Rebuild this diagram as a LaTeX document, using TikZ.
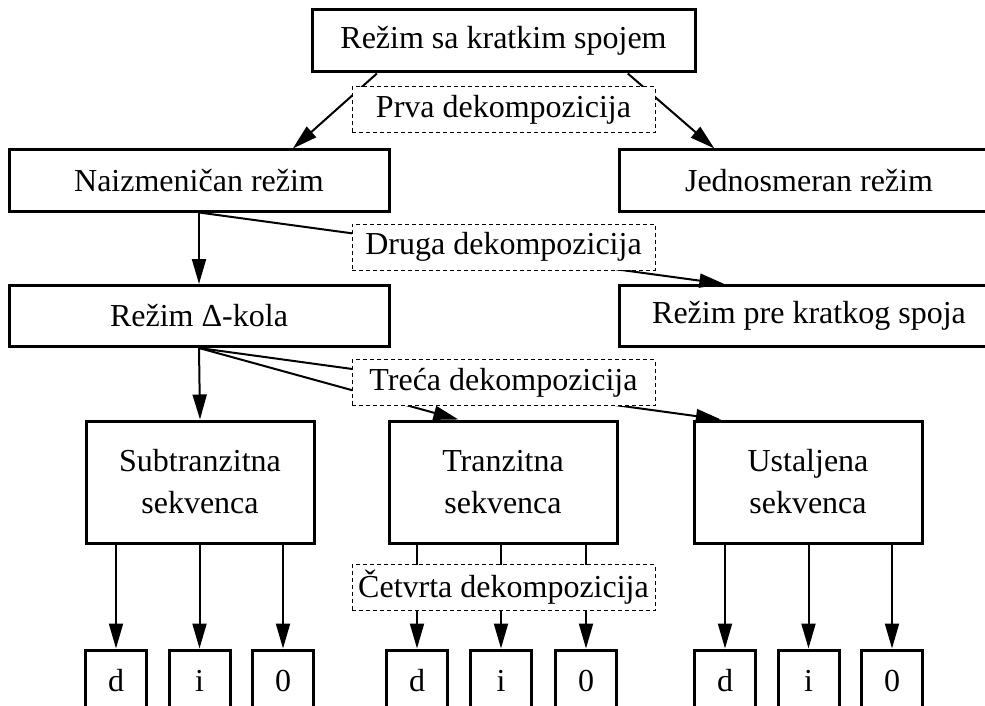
\documentclass[tikz,border=0pt]{standalone}
\usepackage{fontspec}
\setmainfont{Liberation Serif}
\usetikzlibrary{arrows.meta,calc}

\begin{document}
\begin{tikzpicture}[x=1pt, y=-1pt,
  font=\fontsize{32}{42}\selectfont,
  mode/.style={draw, line width=3pt, inner sep=0pt, minimum width=380pt, minimum height=61pt, align=center},
  seq/.style={mode, minimum width=228pt, minimum height=122pt},
  comp/.style={mode, minimum width=61pt, minimum height=62pt},
  decomp/.style={draw, fill=white, line width=1pt, dash pattern=on 4pt off 3pt, inner sep=0pt, minimum width=303pt, minimum height=46pt},
  link/.style={line width=2pt, -{Triangle[length=25pt,width=14pt]}}]
\clip (0,0) rectangle (985,706);

% Regimes
\node[mode, minimum width=383pt, minimum height=62pt] (ksp) at (503.5,41) {Režim sa kratkim spojem};
\node[mode] (naiz) at (199,180.5) {Naizmeničan režim};
\node[mode] (jedn) at (809,180.5) {Jednosmeran režim};
\node[mode] (delta) at (199,316) {Režim Δ-kola};
\node[mode] (pre) at (809,316) {Režim pre kratkog spoja};

% Sequences
\node[seq] (sub) at (200,482) {Subtranzitna\\sekvenca};
\node[seq] (tran) at (503,482) {Tranzitna\\sekvenca};
\node[seq] (ust) at (808,482) {Ustaljena\\sekvenca};

% Components
\node[comp] (subd) at (116,681) {d};
\node[comp] (subi) at (199.5,681) {i};
\node[comp] (sub0) at (283,681) {0};
\node[comp] (trand) at (417,681) {d};
\node[comp] (trani) at (501,681) {i};
\node[comp] (tran0) at (586,681) {0};
\node[comp] (ustd) at (725,681) {d};
\node[comp] (usti) at (808.5,681) {i};
\node[comp] (ust0) at (892,681) {0};

% Links
\draw[link] ($(ksp.south west)!0.172!(ksp.south east)$) -- ($(naiz.north west)!0.745!(naiz.north east)$);
\draw[link] ($(ksp.south west)!0.822!(ksp.south east)$) -- ($(jedn.north west)!0.253!(jedn.north east)$);
\draw[link] (naiz.south) -- (delta.north);
\draw[link] (naiz.south) -- ($(pre.north west)!0.279!(pre.north east)$);
\draw[link] (delta.south) -- (sub.north);
\draw[link] (delta.south) -- ($(tran.north west)!0.307!(tran.north east)$);
\draw[link] (delta.south) -- ($(ust.north west)!0.123!(ust.north east)$);
\draw[link] (subd |- sub.south) -- (subd.north);
\draw[link] (subi |- sub.south) -- (subi.north);
\draw[link] (sub0 |- sub.south) -- (sub0.north);
\draw[link] (trand |- tran.south) -- (trand.north);
\draw[link] (trani |- tran.south) -- (trani.north);
\draw[link] (tran0 |- tran.south) -- (tran0.north);
\draw[link] (ustd |- ust.south) -- (ustd.north);
\draw[link] (usti |- ust.south) -- (usti.north);
\draw[link] (ust0 |- ust.south) -- (ust0.north);

% Decompositions
\node[decomp] (prva) at (503.5,110) {Prva dekompozicija};
\node[decomp] (druga) at (503.5,247) {Druga dekompozicija};
\node[decomp] (treca) at (503.5,382.5) {Treća dekompozicija};
\node[decomp] (cetvrta) at (503.5,587.5) {Četvrta dekompozicija};
\end{tikzpicture}
\end{document}
